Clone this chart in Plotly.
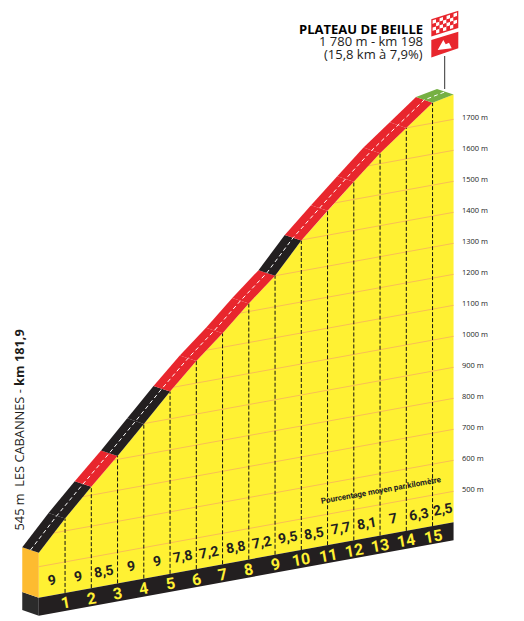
import numpy as np
import plotly.graph_objects as go

# ---------- data ----------
km = [0, 1, 2, 3, 4, 5, 6, 7, 8, 9, 10, 11, 12, 13, 14, 15, 15.8]
elevation = [545, 640, 727, 811, 899, 988, 1071, 1145, 1226, 1300, 1398, 1479, 1557, 1634, 1700, 1766, 1780]
pct_labels = ["9", "9", "8,5", "9", "9", "7,8", "7,2", "8,8", "7,2", "9,5", "8,5", "7,7", "8,1", "7", "6,3", "2,5"]
km_labels = list(range(1, 16))
grid_alts = list(range(500, 1800, 100))

# ---------- projection constants (oblique drawing) ----------
W, H = 524, 621
PX_KM = 26.25; X0 = 38.8
PX_M = 0.31; Y400 = 597.7
SHEAR = 15.39            # metres of screen rise per km
BASE = 400
DX = -0.63; DS = 18.0    # road depth
BAND = 58.0              # black band height

BLACK = "#231F20"; RED = "#E8262D"; YEL = "#FFF133"; ORG = "#FDBB30"; GRN = "#76B043"; GRID = "#F9BE55"
INK = "#1d1d1b"

def S(k, a):
    return np.asarray(a, float) + SHEAR * np.asarray(k, float)

def px_x(X):
    return (X - X0) / PX_KM

def px_y(Y):
    return BASE + (Y400 - Y) / PX_M

fig = go.Figure()

def poly(xs, ys, color):
    fig.add_trace(go.Scatter(x=list(xs), y=list(ys), mode="lines", fill="toself", fillcolor=color,
                             line=dict(width=0, color=color), hoverinfo="skip", showlegend=False))

def line(xs, ys, color, width, dash=None):
    fig.add_trace(go.Scatter(x=list(xs), y=list(ys), mode="lines",
                             line=dict(width=width, color=color, dash=dash), hoverinfo="skip", showlegend=False))

k = np.array(km, float)
e = np.array(elevation, float)
top = S(k, e)
end = k[-1]
bs = S(k, BASE)

# body
poly(list(k) + [end, 0], list(top) + [S(end, BASE), S(0, BASE)], YEL)

# grid
for a in grid_alts:
    k0 = float(np.interp(a, e, k))
    line([k0, end], [S(k0, a), S(end, a)], GRID, 1)

# base band
poly([0, end, end, 0], [S(0, BASE), S(end, BASE), S(end, BASE) - BAND, S(0, BASE) - BAND], BLACK)
poly([0, DX, DX, 0], [S(0, BASE), S(0, BASE) + DS, S(0, BASE) + DS - BAND, S(0, BASE) - BAND], "#2b2b2b")
# left face
poly([0, DX, DX, 0], [top[0], top[0] + DS, S(0, BASE) + DS, S(0, BASE)], ORG)

# verticals
for n in km_labels:
    line([n, n], [S(n, BASE), top[n]], "#111111", 1, "4px,2px")

# road segments coloured by gradient
pcts = [float(p.replace(",", ".")) for p in pct_labels]
for i, p in enumerate(pcts):
    col = BLACK if p >= 9 else (RED if p >= 5 else GRN)
    poly([k[i], k[i + 1], k[i + 1] + DX, k[i] + DX],
         [top[i], top[i + 1], top[i + 1] + DS, top[i] + DS], col)
# centre line
line(k + DX / 2, top + DS / 2, "white", 1, "4px,3px")

# annotations
ann = []
def text(x, y, t, size, color=INK, angle=0, anchor="center", fam="Open Sans", xa="x", ya="y", height=None):
    d = dict(x=x, y=y, text=t, showarrow=False, xref=xa, yref=ya, textangle=angle,
             xanchor=anchor, yanchor="middle", align="center",
             font=dict(size=size, color=color, family=fam))
    if height:
        d["height"] = height
    ann.append(d)

COND = "Roboto"
ANG = -10
for i, lab in enumerate(pct_labels):
    mid = (k[i] + k[i + 1]) / 2
    text(mid, S(mid, BASE) + 15 / PX_M, "<b>%s</b>" % lab, 14, BLACK, ANG, fam=COND)
for n in km_labels:
    text(n, S(n, BASE) - 10 / PX_M, "<b>%d</b>" % n, 16, YEL, ANG, fam=COND)
for a in grid_alts:
    text(px_x(460), S(end, a) + 8, "%d m" % a, 7.5, INK, anchor="left")

text(px_x(380.7), px_y(490), "<b>Pourcentage moyen par kilomètre</b>", 8, "#222222", -10.3, fam=COND)
text(px_x(18), px_y(430.5), "545 m  LES CABANNES - <b>km 181,9</b>", 12.8, INK, -90)
text(px_x(424.5), px_y(28.5), "<b>PLATEAU DE BEILLE</b>", 13, "#000000", anchor="right", height=14)
text(px_x(424.5), px_y(40.8), "1 780 m - km 198", 13, INK, anchor="right", height=14)
text(px_x(424.5), px_y(54.3), "(15,8 km à 7,9%)", 13, INK, anchor="right", height=14)

# summit flag, placed in page pixels
def P(X, Y):
    return X / W, 1 - Y / H

def path(pts):
    return "M " + " L ".join("%.4f,%.4f" % P(*p) for p in pts) + " Z"

shapes = []
def sh(pts, fill, lw=0, lc=None):
    shapes.append(dict(type="path", path=path(pts), xref="paper", yref="paper", fillcolor=fill,
                       line=dict(width=lw, color=lc or fill), layer="above"))

shapes.append(dict(type="line", xref="paper", yref="paper", x0=444.7 / W, x1=444.7 / W,
                   y0=1 - 56 / H, y1=1 - 89 / H, line=dict(color="#333333", width=1), layer="above"))
L, R = 431.3, 458.3
sh([(L, 19.3), (R, 10.7), (R, 28), (L, 36.5)], RED)
nx, ny = 7, 4
iL, iR = L + 1.3, R - 1.3
def yy(x, f):
    t = (x - L) / (R - L)
    up = 19.3 + (10.7 - 19.3) * t + 1.5
    lo = 36.5 + (28 - 36.5) * t - 1.5
    return up + (lo - up) * f
for i in range(nx):
    for j in range(ny):
        x0 = iL + (iR - iL) * i / nx; x1 = iL + (iR - iL) * (i + 1) / nx
        c = "white" if (i + j) % 2 == 0 else RED
        sh([(x0, yy(x0, j / ny)), (x1, yy(x1, j / ny)), (x1, yy(x1, (j + 1) / ny)), (x0, yy(x0, (j + 1) / ny))], c)
sh([(L, 40), (R, 31.7), (R, 48.3), (L, 57.5)], RED)
sh([(437.7, 50), (443.3, 40), (445.7, 44.3), (449, 42.7), (451.7, 48.3)], "white")

fig.update_layout(
    width=W, height=H, margin=dict(l=0, r=0, t=0, b=0), autosize=False,
    paper_bgcolor="white", plot_bgcolor="white", showlegend=False,
    xaxis=dict(range=[px_x(0), px_x(W)], visible=False, fixedrange=True),
    yaxis=dict(range=[px_y(H), px_y(0)], visible=False, fixedrange=True),
    annotations=ann, shapes=shapes,
)
fig.write_html("out.html", post_script="document.body.style.margin='0';document.body.style.overflow='hidden';",
               config={"displayModeBar": False})
